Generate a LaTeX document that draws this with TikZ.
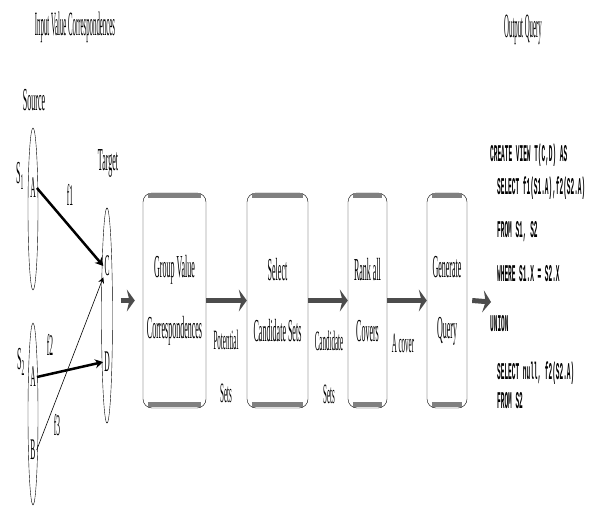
\documentclass[tikz,border=0pt]{standalone}
\usepackage{fontspec}
\setmainfont{Liberation Serif}[FakeStretch=0.25]
\setmonofont{Liberation Mono}[FakeStretch=0.255]
\newfontfamily\headfont{Liberation Serif}[FakeStretch=0.2]
\usetikzlibrary{shapes.geometric,arrows.meta}

\tikzset{
  setell/.style={draw, ellipse, inner sep=0pt, minimum width=10pt},
  letter/.style={inner sep=1pt, font=\fontsize{30}{30}\selectfont},
  corr/.style={line width=2.5pt, -{Stealth[length=8pt,width=9pt]}},
  procbox/.style={draw, thin, rounded corners=9pt, minimum height=215pt, inner sep=0pt, align=center, font=\fontsize{32}{61}\selectfont},
  boxbar/.style={line width=5pt, black!50},
  flow/.style={line width=5pt, black!70, -{Stealth[length=8pt,width=22pt]}},
  elabel/.style={align=center, font=\fontsize{28}{53}\selectfont},
  code/.style={anchor=west, inner sep=0pt, font=\ttfamily\bfseries\fontsize{24}{24}\selectfont},
}

\begin{document}
\begin{tikzpicture}[x=1pt,y=-1pt]
\useasboundingbox (0,0) rectangle (591,514);
% titles
\node[font=\headfont\fontsize{34}{34}\selectfont] (intitle) at (75,27) {Input Value Correspondences};
\node[font=\headfont\fontsize{34}{34}\selectfont] (outtitle) at (523,30) {Output Query};
% source and target sets
\node[font=\fontsize{32}{32}\selectfont] (srclab) at (34,100) {Source};
\node[font=\fontsize{32}{32}\selectfont] (tgtlab) at (108,163) {Target};
\node[setell, minimum height=162pt] (s1) at (33,209) {};
\node[setell, minimum height=182pt] (s2) at (33,414) {};
\node[setell, minimum width=11pt, minimum height=215pt] (tgt) at (107,315.5) {};
\node[font=\fontsize{32}{32}\selectfont] (s1lab) at (20,176) {S\textsubscript{1}};
\node[font=\fontsize{32}{32}\selectfont] (s2lab) at (21,362) {S\textsubscript{2}};
\node[letter] (s1a) at (33,188) {A};
\node[letter] (s2a) at (33,377) {A};
\node[letter] (s2b) at (33,450) {B};
\node[letter] (tc) at (107,266) {C};
\node[letter] (td) at (107,362) {D};
% value correspondences
\draw[corr] (s1a.east) -- (tc.west);
\draw[corr] (s2a.east) -- (td.west);
\draw[semithick, -{Stealth[length=6pt,width=6pt]}] (s2b.east) -- (tc.south west);
\node[letter] (f1) at (70,195) {f1};
\node[letter] (f2) at (50,345) {f2};
\node[letter] (f3) at (57,425) {f3};
% pipeline
\node[procbox, minimum width=63pt] (grp) at (174.5,300.5) {Group Value\\Correspondences};
\node[procbox, minimum width=61pt] (sel) at (277.5,300.5) {Select\\Candidate Sets};
\node[procbox, minimum width=39pt] (rank) at (367.5,300.5) {Rank all\\Covers};
\node[procbox, minimum width=40pt] (gen) at (447,300.5) {Generate\\Query};
\foreach \b in {grp,sel,rank,gen} {
  \draw[boxbar] ([shift={(5pt,-2.5pt)}]\b.north west) -- ([shift={(-5pt,-2.5pt)}]\b.north east);
  \draw[boxbar] ([shift={(5pt,4pt)}]\b.south west) -- ([shift={(-5pt,4pt)}]\b.south east);
}
\coordinate (codein) at (491,302);
\draw[flow] ([xshift=8pt]tgt.east |- grp.west) -- ([xshift=-8pt]grp.west);
\draw[flow] (grp) -- (sel);
\draw[flow] (sel) -- (rank);
\draw[flow] (rank) -- (gen);
\draw[flow] ([xshift=5pt]gen.east) -- (codein);
\node[elabel] (pot) at (226,366) {Potential\\Sets};
\node[elabel] (cand) at (329,367) {Candidate\\Sets};
\node[elabel] (acov) at (403,343) {A cover};
% output query
\node[code] (q1) at (490,155) {CREATE VIEW T(C,D) AS};
\node[code] (q2) at (497,188) {SELECT f1(S1.A),f2(S2.A)};
\node[code] (q3) at (497,232) {FROM S1, S2};
\node[code] (q4) at (497,274) {WHERE S1.X = S2.X};
\node[code] (q5) at (490,324) {UNION};
\node[code] (q6) at (497,373) {SELECT null, f2(S2.A)};
\node[code] (q7) at (497,401) {FROM S2};
\end{tikzpicture}
\end{document}
